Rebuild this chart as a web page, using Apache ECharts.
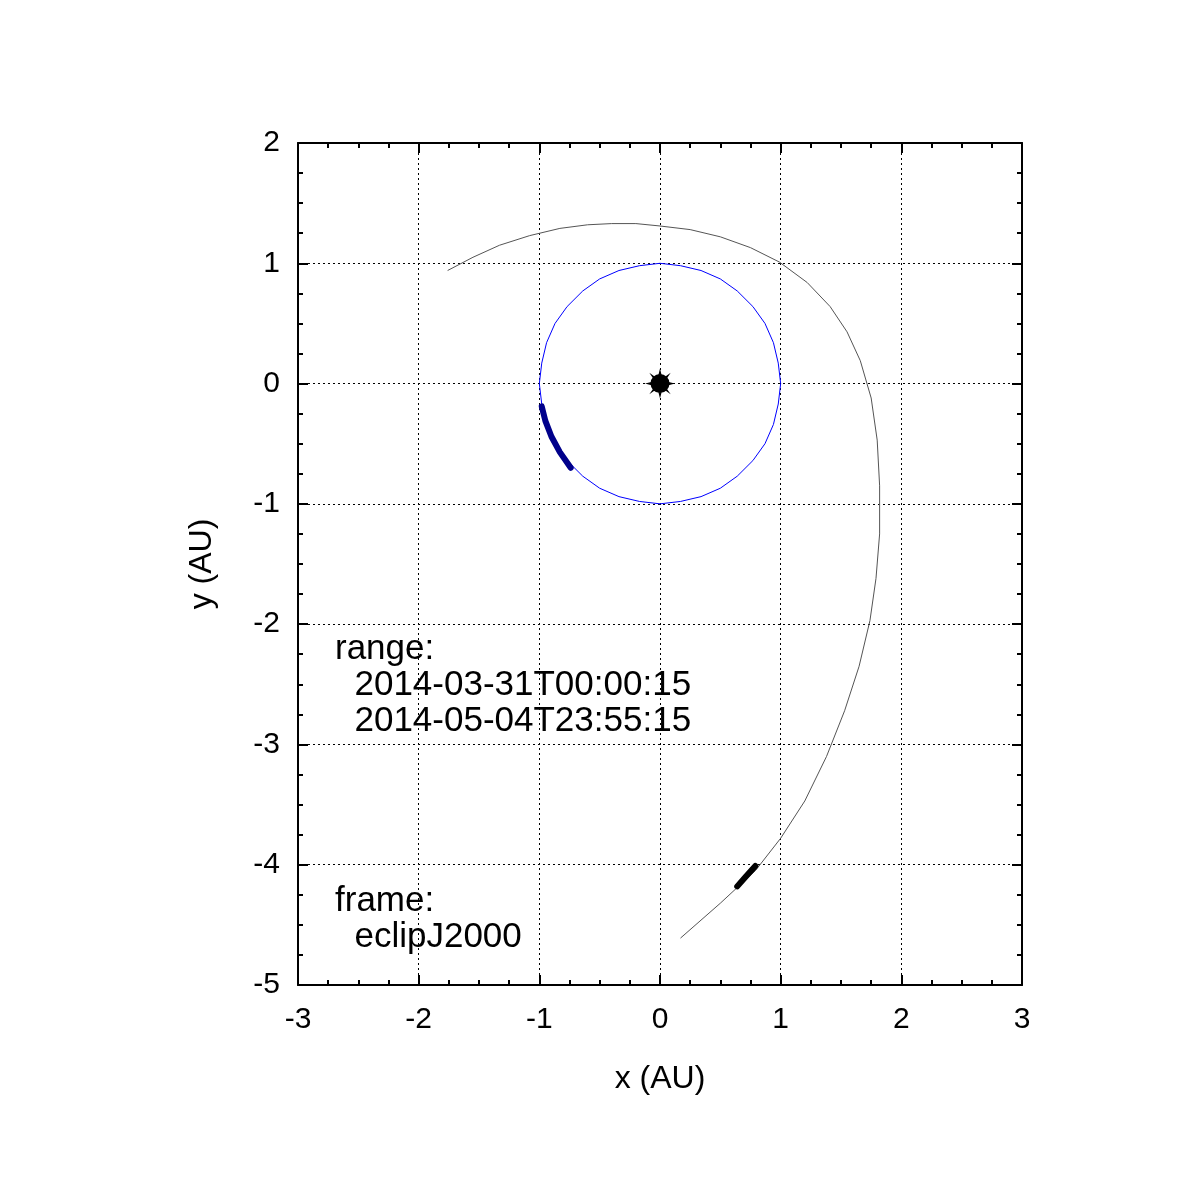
<!DOCTYPE html>
<html>
<head>
<meta charset="utf-8">
<script src="https://cdn.jsdelivr.net/npm/echarts@6/dist/echarts.min.js"></script>
<style>html,body{margin:0;background:#fff}#main{width:1199px;height:1200px}</style>
</head>
<body>
<div id="main"></div>
<script>
// comet path (grey)
let cometPath = [[-1.76,0.94],[-1.55,1.05],[-1.33,1.15],[-1.08,1.23],[-0.83,1.29],[-0.60,1.32],[-0.40,1.33],
  [-0.20,1.33],[0,1.31],[0.25,1.28],[0.50,1.22],[0.75,1.13],[0.99,1.01],[1.22,0.84],[1.41,0.64],
  [1.55,0.43],[1.66,0.19],[1.75,-0.12],[1.80,-0.47],[1.82,-0.85],[1.82,-1.25],[1.79,-1.62],[1.74,-1.97],
  [1.65,-2.35],[1.53,-2.72],[1.38,-3.10],[1.20,-3.47],[1.00,-3.78],[0.79,-4.05],[0.50,-4.32],[0.17,-4.61]];
// comet during range (thick black)
let cometRange = [[0.64,-4.18],[0.71,-4.10],[0.79,-4.01]];
// earth orbit (blue)
let earthOrbit = [[1,0],[0.98,0.17],[0.94,0.34],[0.87,0.5],[0.77,0.64],[0.64,0.77],[0.5,0.87],[0.34,0.94],
  [0.17,0.98],[0,1],[-0.17,0.98],[-0.34,0.94],[-0.5,0.87],[-0.64,0.77],[-0.77,0.64],[-0.87,0.5],
  [-0.94,0.34],[-0.98,0.17],[-1,0],[-0.98,-0.17],[-0.94,-0.34],[-0.87,-0.5],[-0.77,-0.64],[-0.64,-0.77],
  [-0.5,-0.87],[-0.34,-0.94],[-0.17,-0.98],[0,-1],[0.17,-0.98],[0.34,-0.94],[0.5,-0.87],[0.64,-0.77],
  [0.77,-0.64],[0.87,-0.5],[0.94,-0.34],[0.98,-0.17],[1,0]];
// earth during range (thick navy)
let earthRange = [[-0.98,-0.19],[-0.95,-0.31],[-0.90,-0.44],[-0.83,-0.57],[-0.74,-0.70]];
let sun = [[0,0]];
let rangeText = ['range:', '  2014-03-31T00:00:15', '  2014-05-04T23:55:15'];
let frameText = ['frame:', '  eclipJ2000'];

let font = 'Liberation Sans, Arial, sans-serif';
let rays = 'path://M14,0L15.5,6L12.5,6Z M14,28L15.5,22L12.5,22Z M0,14L6,12.5L6,15.5Z M28,14L22,12.5L22,15.5Z ' +
  'M4,4L9,7.5L7.5,9Z M24,4L20.5,9L19,7.5Z M4,24L7.5,19L9,20.5Z M24,24L19,20.5L20.5,19Z';

let axBase = {
  type: 'value',
  axisLine: {onZero: false, lineStyle: {color: '#000', width: 2}},
  axisTick: {inside: true, length: 10, lineStyle: {color: '#000', width: 2}},
  minorTick: {show: true, splitNumber: 4, length: 5, lineStyle: {color: '#000', width: 2}},
  axisLabel: {color: '#000', fontSize: 30, fontFamily: font},
  nameTextStyle: {color: '#000', fontSize: 32, fontFamily: font}
};
function ax(extra) { return Object.assign({}, JSON.parse(JSON.stringify(axBase)), extra); }
let grid = {show: true, lineStyle: {color: '#000', type: [2, 3], width: 1}};

let myChart = echarts.init(document.getElementById('main'));
let option = {
  backgroundColor: '#fff',
  animation: false,
  grid: {left: 298, right: 177, top: 143, bottom: 215, containLabel: false},
  xAxis: [
    ax({min: -3, max: 3, interval: 1, position: 'bottom', name: 'x (AU)', nameLocation: 'middle', nameGap: 78,
      axisLabel: {color: '#000', fontSize: 30, fontFamily: font, margin: 20}, splitLine: grid}),
    ax({min: -3, max: 3, interval: 1, position: 'top', axisLabel: {show: false}, splitLine: {show: false}})
  ],
  yAxis: [
    ax({min: -5, max: 2, interval: 1, position: 'left', name: 'y (AU)', nameLocation: 'middle', nameGap: 80,
      axisLabel: {color: '#000', fontSize: 30, fontFamily: font, margin: 18}, splitLine: grid}),
    ax({min: -5, max: 2, interval: 1, position: 'right', axisLabel: {show: false}, splitLine: {show: false}})
  ],
  series: [
    {type: 'line', data: cometPath, symbol: 'none', lineStyle: {color: '#555', width: 1}},
    {type: 'line', data: earthOrbit, symbol: 'none', lineStyle: {color: '#0000ff', width: 1}},
    {type: 'line', data: cometRange, symbol: 'none', lineStyle: {color: '#000', width: 6, cap: 'round'}},
    {type: 'line', data: earthRange, symbol: 'none', lineStyle: {color: '#00008b', width: 6, cap: 'round', join: 'round'}},
    {type: 'scatter', data: sun, symbol: rays, symbolSize: 30, itemStyle: {color: '#000', opacity: 1}, z: 5},
    {type: 'scatter', data: sun, symbol: 'circle', symbolSize: 19, itemStyle: {color: '#000', opacity: 1}, z: 6}
  ],
  graphic: [
    {type: 'text', left: 335, top: 631, style: {text: rangeText.join('\n'), font: '35px ' + font, lineHeight: 36, fill: '#000'}},
    {type: 'text', left: 335, top: 883, style: {text: frameText.join('\n'), font: '35px ' + font, lineHeight: 36, fill: '#000'}}
  ]
};
myChart.setOption(option);
</script>
</body>
</html>
